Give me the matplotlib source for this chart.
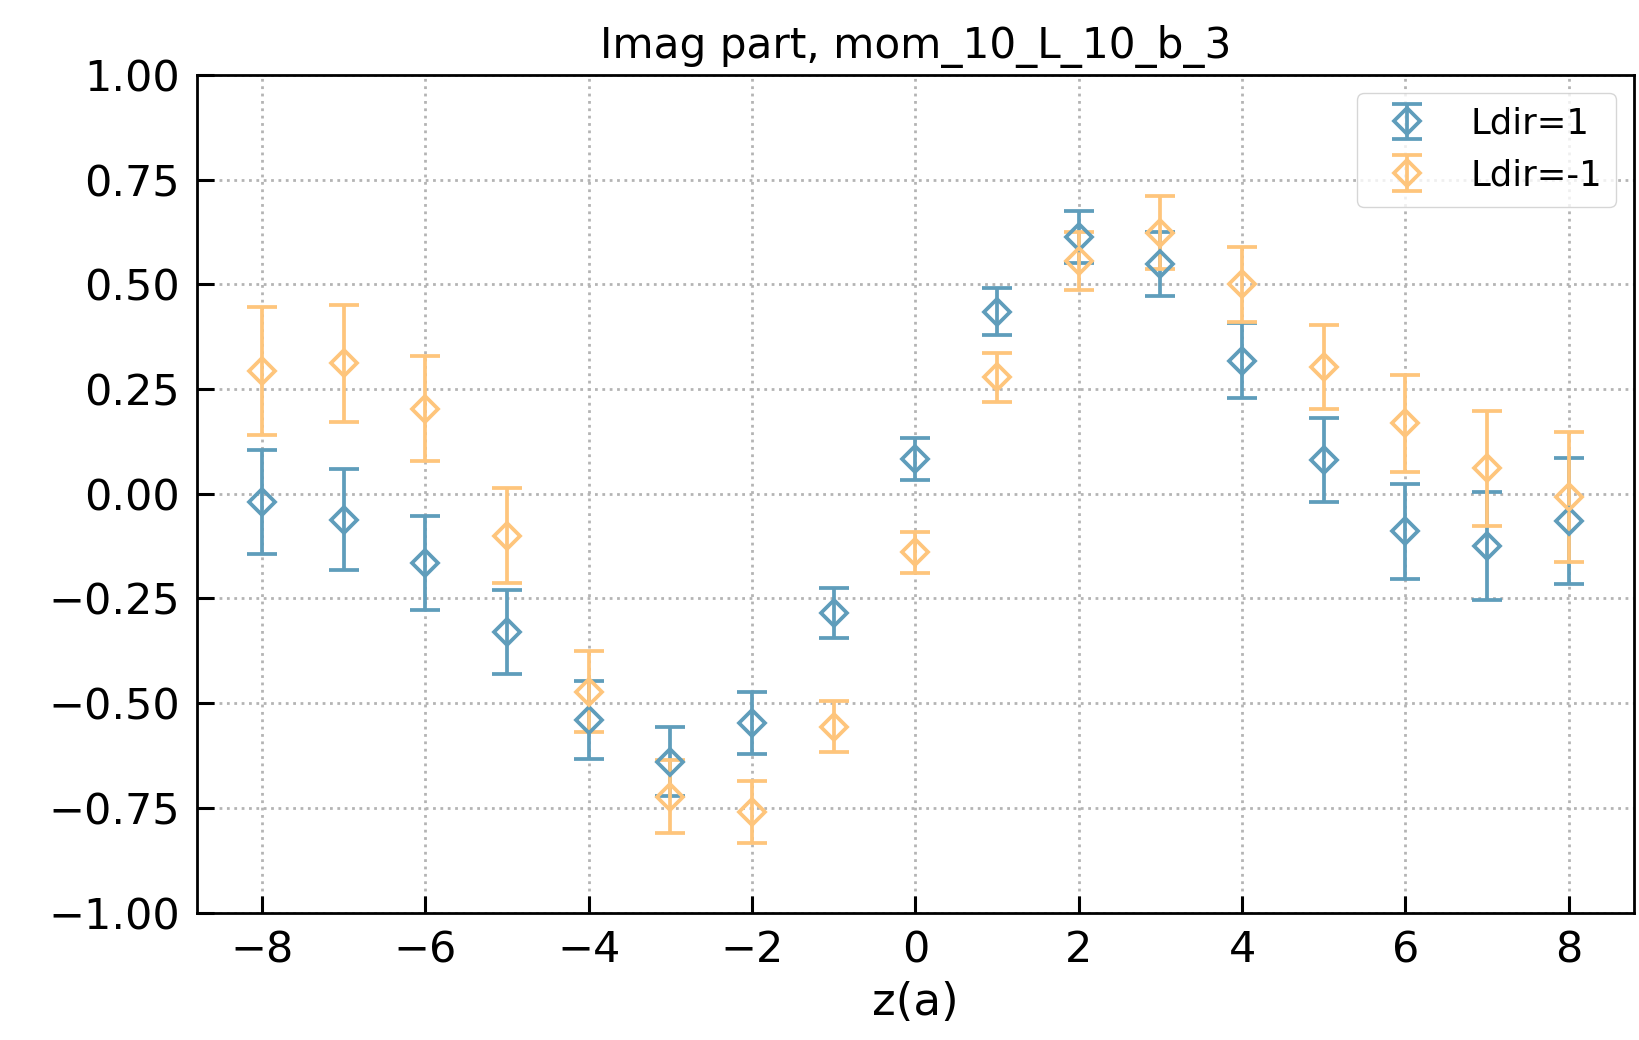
import numpy as np
import matplotlib
matplotlib.use("Agg")
import matplotlib.pyplot as plt

# Separation z (lattice units)
z = np.arange(-8, 9)

# Ldir = 1
ldir_pos_val = [-0.020, -0.062, -0.165, -0.330, -0.540, -0.640, -0.548, -0.285,
                0.082, 0.435, 0.613, 0.548, 0.318, 0.080, -0.090, -0.124, -0.065]
ldir_pos_err = [0.125, 0.120, 0.113, 0.100, 0.093, 0.082, 0.074, 0.060,
                0.050, 0.056, 0.062, 0.076, 0.089, 0.100, 0.113, 0.129, 0.150]

# Ldir = -1
ldir_neg_val = [0.293, 0.311, 0.203, -0.100, -0.473, -0.723, -0.760, -0.556,
                -0.140, 0.278, 0.555, 0.623, 0.500, 0.303, 0.168, 0.061, -0.008]
ldir_neg_err = [0.153, 0.139, 0.126, 0.113, 0.097, 0.087, 0.073, 0.060,
                0.049, 0.059, 0.069, 0.087, 0.090, 0.100, 0.116, 0.137, 0.156]

series_labels = ["Ldir=1", "Ldir=-1"]
colors = ["#5f9dbb", "#fec57c"]

fig = plt.figure(figsize=(16.39, 10.40), dpi=100)
ax = fig.add_axes([0.120, 0.1225, 0.877, 0.8055])

common = dict(fmt="D", markersize=13, markerfacecolor="none", markeredgewidth=2.7,
              elinewidth=2.7, capsize=10.5, capthick=2.7)
ax.errorbar(z, ldir_pos_val, yerr=ldir_pos_err, color=colors[0],
            label=series_labels[0], **common)
ax.errorbar(z, ldir_neg_val, yerr=ldir_neg_err, color=colors[1],
            label=series_labels[1], **common)

ax.set_xlim(-8.8, 8.8)
ax.set_ylim(-1.0, 1.0)
ax.set_xticks([-8, -6, -4, -2, 0, 2, 4, 6, 8])
ax.set_yticks([-1.0, -0.75, -0.5, -0.25, 0.0, 0.25, 0.5, 0.75, 1.0])
ax.yaxis.set_major_formatter(matplotlib.ticker.FuncFormatter(
    lambda v, p: f"{v:.2f}".replace("-", "\u2212")))
ax.xaxis.set_major_formatter(matplotlib.ticker.FuncFormatter(
    lambda v, p: f"{int(round(v))}".replace("-", "\u2212")))

ax.grid(True, linestyle=":", color="#b4b4b4", linewidth=2.0)
ax.set_axisbelow(True)
ax.tick_params(axis="both", direction="in", length=12, width=2.2,
               labelsize=31, pad=12)
for s in ax.spines.values():
    s.set_linewidth(2.0)

ax.set_xlabel("z(a)", fontsize=32.5, labelpad=7)
ax.set_title("Imag part, mom_10_L_10_b_3", fontsize=30.3, pad=12)
ax.legend(loc="upper right", fontsize=25.5)

fig.savefig("out.png", dpi=100, facecolor="white")
